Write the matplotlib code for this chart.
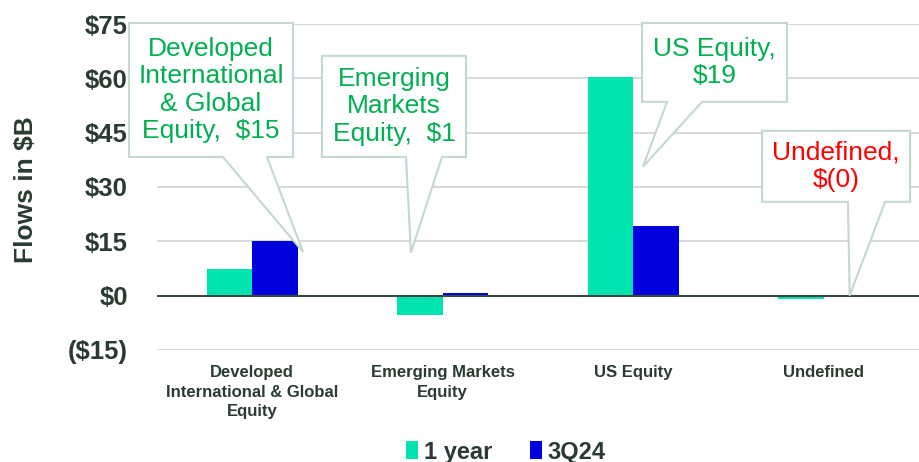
import matplotlib.pyplot as plt
from matplotlib.patches import Polygon

# Data: flows in $B
categories = ['Developed\nInternational & Global\nEquity', 'Emerging Markets\nEquity',
              'US Equity', 'Undefined']
one_year = [7.4, -5.2, 60.4, -0.8]
q3_24 = [15.2, 0.8, 19.1, -0.1]
callout_texts = ['Developed\nInternational\n& Global\nEquity,  $15', 'Emerging\nMarkets\nEquity,  $1',
                 'US Equity,\n$19', 'Undefined,\n$(0)']
callout_colors = ['#00B050', '#00B050', '#00B050', '#FF0000']
yticks = [-15, 0, 15, 30, 45, 60, 75]
ytick_labels = ['($15)', '$0', '$15', '$30', '$45', '$60', '$75']

# callout layout: box (x0, x1, y_bottom, y_top), pointer base (xa, xb), tip (x, y)
callouts = [
    ((-0.647, 0.214, 38.3, 75.3), (-0.154, 0.077), (0.266, 12.1)),
    ((0.366, 1.122, 38.3, 66.2), (0.807, 0.996), (0.833, 11.9)),
    ((2.046, 2.807, 53.5, 75.3), (2.177, 2.361), (2.051, 35.6)),
    ((2.676, 3.453, 25.9, 45.5), (3.127, 3.322), (3.136, 0.0)),
]

dark = '#2A3B31'
mint = '#00E5B0'
blue = '#0000DD'
sans = ['Liberation Sans', 'DejaVu Sans']

fig = plt.figure(figsize=(9.19, 4.62), dpi=100)
ax = fig.add_axes([157 / 919, 112 / 462, 762 / 919, 326 / 462])

x = list(range(len(categories)))
w = 0.24
b1 = ax.bar([i - w / 2 for i in x], one_year, w, color=mint, label='1 year', zorder=2)
b2 = ax.bar([i + w / 2 for i in x], q3_24, w, color=blue, label='3Q24', zorder=2)

ax.set_xlim(-0.5, 3.5)
ax.set_ylim(-15, 75)
ax.set_yticks(yticks)
ax.set_yticklabels(ytick_labels, fontsize=18.5, fontweight='bold', color=dark, family=sans)
ax.set_xticks(x)
ax.set_xticklabels(categories, fontsize=12, fontweight='bold', color=dark,
                   family=sans, linespacing=1.38, va='top')
ax.tick_params(axis='y', length=0, pad=21)
ax.tick_params(axis='x', length=0, pad=11)
for s in ax.spines.values():
    s.set_visible(False)
ax.yaxis.grid(True, color='#D9D9D9', lw=1.5, zorder=0)
ax.set_axisbelow(True)
ax.axhline(0, color='#3A4A40', lw=1.5, zorder=3)

for (box, base, tip), txt, col in zip(callouts, callout_texts, callout_colors):
    x0, x1, yb, yt = box
    pts = [(x0, yt), (x1, yt), (x1, yb), (base[1], yb), tip, (base[0], yb), (x0, yb)]
    ax.add_patch(Polygon(pts, closed=True, facecolor='white', edgecolor='#C4D9CC',
                         lw=1.5, zorder=4, clip_on=False))
    ax.text((x0 + x1) / 2, (yb + yt) / 2, txt, ha='center', va='center', fontsize=19,
            color=col, family=sans, linespacing=1.17, zorder=5, clip_on=False)

fig.text(26 / 919, 272 / 462, 'Flows in $B', rotation=90, ha='center', va='center',
         fontsize=19, fontweight='bold', color=dark, family=sans)

fig.legend(handles=[b1, b2], loc='center', bbox_to_anchor=(506 / 919, 10 / 462), ncol=2,
           frameon=False, prop={'family': sans, 'weight': 'bold', 'size': 17},
           handlelength=0.5, handleheight=0.8, handletextpad=0.25, columnspacing=1.6,
           labelcolor=dark)

fig.savefig('out.png', dpi=100)
